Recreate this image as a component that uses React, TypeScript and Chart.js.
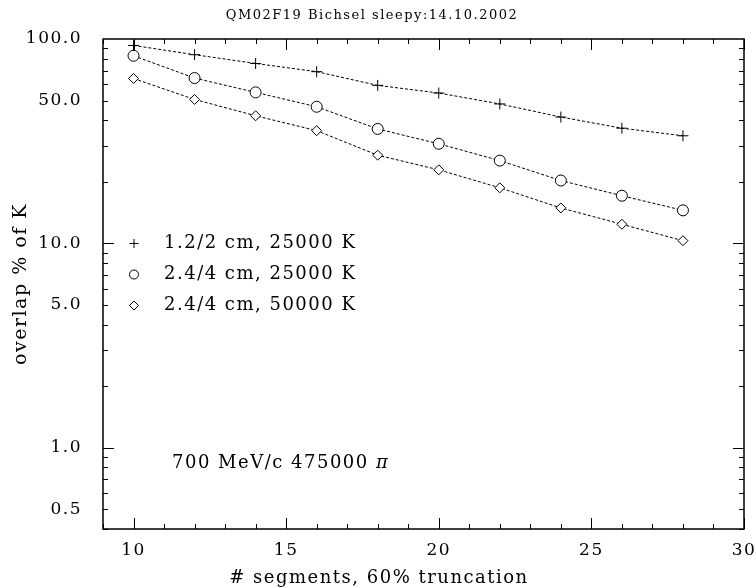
import React, { useEffect, useRef } from 'react';
import { Chart, registerables } from 'chart.js';
import { drawPoint } from 'chart.js/helpers';

Chart.register(...registerables);

// ---- data ----
const segments = [10, 12, 14, 16, 18, 20, 22, 24, 26, 28];
const overlap12cm25k = [93.0, 83.8, 75.9, 69.2, 59.3, 54.4, 48.1, 41.5, 36.6, 33.6];
const overlap24cm25k = [82.8, 64.4, 54.8, 46.6, 36.3, 30.7, 25.4, 20.3, 17.1, 14.5];
const overlap24cm50k = [64.1, 50.6, 42.1, 35.6, 27.0, 22.9, 18.7, 14.9, 12.4, 10.3];
const seriesLabels = ['1.2/2 cm, 25000 K', '2.4/4 cm, 25000 K', '2.4/4 cm, 50000 K'];
const seriesStyles = ['cross', 'circle', 'rectRot'];
const xTickValues = [10, 15, 20, 25, 30];
const yTickValues = [0.5, 1, 5, 10, 50, 100];
const chartTitle = 'QM02F19 Bichsel sleepy:14.10.2002';
const xTitle = '# segments, 60% truncation';
const yTitle = 'overlap % of K';
const annotationText = '700 MeV/c 475000 ';
const annotationSymbol = '\u03c0';

const FONT = '"DejaVu Serif", serif';

const textSpacingPlugin = {
  id: 'textSpacing',
  beforeDraw(chart: any) {
    const ctx = chart.ctx;
    ctx.save();
    ctx.fillStyle = '#fff';
    ctx.fillRect(0, 0, chart.width, chart.height);
    ctx.restore();
    ctx.letterSpacing = '1.5px';
  },
};

const framePlugin = {
  id: 'frame',
  afterDatasetsDraw(chart: any) {
    const { ctx, chartArea: a, scales } = chart;
    const xs = scales.x;
    const ys = scales.y;
    ctx.save();
    ctx.strokeStyle = '#000';
    ctx.lineWidth = 1;
    ctx.beginPath();
    for (let v = Math.ceil(xs.min); v <= xs.max; v++) {
      const px = Math.round(xs.getPixelForValue(v)) + 0.5;
      const len = v % 5 === 0 ? 11 : 5;
      ctx.moveTo(px, a.bottom);
      ctx.lineTo(px, a.bottom - len);
      ctx.moveTo(px, a.top);
      ctx.lineTo(px, a.top + len);
    }
    for (const d of [0.1, 1, 10]) {
      for (let m = 1; m <= 9; m++) {
        const v = m * d;
        if (v < ys.min - 1e-9 || v > ys.max + 1e-9) continue;
        const py = Math.round(ys.getPixelForValue(v)) + 0.5;
        const len = m === 1 ? 11 : 5;
        ctx.moveTo(a.left, py);
        ctx.lineTo(a.left + len, py);
        ctx.moveTo(a.right, py);
        ctx.lineTo(a.right - len, py);
      }
    }
    ctx.stroke();
    ctx.lineWidth = 1.5;
    ctx.strokeRect(a.left, a.top, a.right - a.left, a.bottom - a.top);
    ctx.restore();
  },
  afterDraw(chart: any) {
    const { ctx, chartArea: a } = chart;
    ctx.save();
    ctx.letterSpacing = '1.5px';
    ctx.font = `18px ${FONT}`;
    ctx.fillStyle = '#000';
    ctx.textBaseline = 'middle';
    chart.data.datasets.forEach((ds: any, i: number) => {
      const y = a.top + 204.5 + i * 31;
      const x = a.left + 31;
      ctx.save();
      ctx.strokeStyle = '#000';
      ctx.fillStyle = '#fff';
      ctx.lineWidth = 1;
      drawPoint(ctx, { pointStyle: ds.pointStyle, radius: 4.5, rotation: 0, borderWidth: 1 } as any, x, y);
      ctx.restore();
      ctx.textAlign = 'left';
      ctx.fillText(ds.label, a.left + 61, y);
    });
    // annotation
    ctx.textAlign = 'left';
    const ax = a.left + 69;
    const ay = a.top + 424;
    ctx.fillText(annotationText, ax, ay);
    const w = ctx.measureText(annotationText).width;
    ctx.font = `italic 18px ${FONT}`;
    ctx.fillText(annotationSymbol, ax + w, ay);
    // x-axis title
    ctx.font = `18px ${FONT}`;
    ctx.textAlign = 'center';
    ctx.fillText(xTitle, chart.width / 2 + 1, a.bottom + 49);
    ctx.restore();
  },
};

export default function App() {
  const ref = useRef<HTMLCanvasElement | null>(null);

  useEffect(() => {
    if (!ref.current) return;
    const series = [overlap12cm25k, overlap24cm25k, overlap24cm50k];
    const chart = new Chart(ref.current, {
      type: 'line',
      data: {
        datasets: series.map((vals, i) => ({
          label: seriesLabels[i],
          data: segments.map((x, j) => ({ x, y: vals[j] })),
          borderColor: '#000',
          borderWidth: 1,
          borderDash: [3, 2],
          fill: false,
          tension: 0,
          pointStyle: seriesStyles[i] as any,
          pointRadius: i === 2 ? 5 : 5.5,
          pointBorderWidth: 1,
          pointBorderColor: '#000',
          pointBackgroundColor: '#fff',
        })),
      },
      options: {
        animation: false,
        responsive: false,
        devicePixelRatio: 1,
        layout: { padding: { left: 0, top: 0, right: 12, bottom: 0 } },
        plugins: {
          legend: { display: false },
          tooltip: { enabled: false },
          title: {
            display: true,
            text: chartTitle,
            color: '#000',
            font: { family: FONT, size: 13, weight: 'normal' },
            padding: { top: 8, bottom: 15.4 },
          },
        },
        scales: {
          x: {
            type: 'linear',
            min: 9,
            max: 30,
            grid: { display: false, drawTicks: false },
            border: { display: false },
            afterBuildTicks: (s: any) => {
              s.ticks = xTickValues.map((v) => ({ value: v }));
            },
            afterFit: (s: any) => {
              s.height = 59;
              s.paddingLeft = 0;
              s.paddingRight = 0;
            },
            ticks: {
              color: '#000',
              font: { family: FONT, size: 17 },
              padding: 11,
              maxRotation: 0,
              autoSkip: false,
              callback: (v: any) => String(v),
            },
          },
          y: {
            type: 'logarithmic',
            min: 0.4,
            max: 100,
            grid: { display: false, drawTicks: false },
            border: { display: false },
            afterBuildTicks: (s: any) => {
              s.ticks = yTickValues.map((v) => ({ value: v }));
            },
            afterFit: (s: any) => {
              s.width = 103;
              s.paddingTop = 0;
              s.paddingBottom = 0;
            },
            ticks: {
              color: '#000',
              font: { family: FONT, size: 17 },
              padding: 21,
              autoSkip: false,
              callback: (v: any) => Number(v).toFixed(1),
            },
            title: {
              display: true,
              text: yTitle,
              color: '#000',
              font: { family: FONT, size: 19 },
              padding: { top: 10, bottom: 0 },
            },
          },
        },
      },
      plugins: [textSpacingPlugin, framePlugin],
    });
    return () => chart.destroy();
  }, []);

  return (
    <div style={{ position: 'absolute', left: 0, top: 0, width: 756, height: 588, background: '#fff' }}>
      <canvas ref={ref} width={756} height={588} style={{ width: 756, height: 588, display: 'block' }} />
    </div>
  );
}
